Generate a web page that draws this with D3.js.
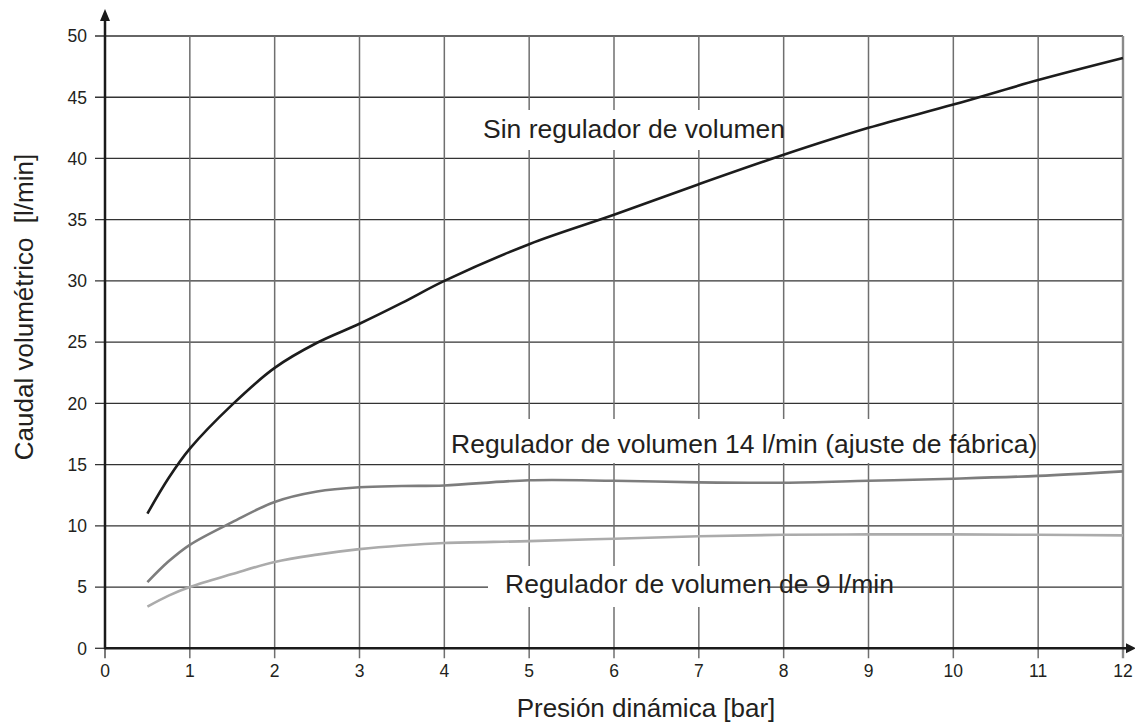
<!DOCTYPE html>
<html>
<head>
<meta charset="utf-8">
<script src="https://cdn.jsdelivr.net/npm/d3@7"></script>
<style>
  html, body { margin: 0; padding: 0; background: #fff; }
  svg text { font-family: "Liberation Sans", Arial, Helvetica, sans-serif; fill: #231f20; }
</style>
</head>
<body>
<svg id="chart" width="1135" height="722"></svg>
<script>
// Dynamic pressure sample points [bar]
const pressure = [0.5, 0.75, 1, 1.5, 2, 2.5, 3, 3.5, 4, 5, 6, 7, 8, 9, 10, 11, 12];
// Volumetric flow [l/min] for each configuration
const sinRegulador = [11.0, 13.9, 16.3, 19.9, 22.9, 24.95, 26.5, 28.2, 30.0, 33.0, 35.4, 37.9, 40.3, 42.5, 44.4, 46.4, 48.2];
const regulador14  = [5.4, 7.1, 8.45, 10.3, 11.95, 12.8, 13.15, 13.25, 13.3, 13.72, 13.68, 13.55, 13.52, 13.68, 13.85, 14.08, 14.45];
const regulador9   = [3.4, 4.3, 5.0, 6.06, 7.05, 7.65, 8.1, 8.4, 8.6, 8.75, 8.95, 9.15, 9.27, 9.3, 9.3, 9.27, 9.22];

const xTicks = [0, 1, 2, 3, 4, 5, 6, 7, 8, 9, 10, 11, 12];
const yTicks = [0, 5, 10, 15, 20, 25, 30, 35, 40, 45, 50];

const seriesNames = ["Sin regulador de volumen", "Regulador de volumen 14 l/min (ajuste de fábrica)", "Regulador de volumen de 9 l/min"];
const xTitle = "Presión dinámica [bar]";
const yTitle = "Caudal volumétrico\u00a0 [l/min]";

const svg = d3.select("#chart");
const x = d3.scaleLinear().domain([0, 12]).range([105, 1123]);
const y = d3.scaleLinear().domain([0, 50]).range([648.3, 36]);

// Grid: horizontal lines (with left tick stubs)
const grid = svg.append("g");
grid.selectAll("line.h").data(yTicks.filter(d => d > 0)).join("line")
  .attr("x1", x(0) - 10).attr("x2", x(12))
  .attr("y1", d => y(d)).attr("y2", d => y(d))
  .attr("stroke", "#333").attr("stroke-width", 1.3);
// Vertical lines (with bottom tick stubs)
grid.selectAll("line.v").data(xTicks.filter(d => d > 0)).join("line")
  .attr("x1", d => x(d)).attr("x2", d => x(d))
  .attr("y1", y(50)).attr("y2", y(0) + 10)
  .attr("stroke", d => d === 12 ? "#8a8a8a" : "#6f6f6f")
  .attr("stroke-width", d => d === 12 ? 2.4 : 1.5);
// Tick stubs at the origin
grid.append("line").attr("x1", x(0) - 10).attr("x2", x(0))
  .attr("y1", y(0)).attr("y2", y(0)).attr("stroke", "#333").attr("stroke-width", 1.3);
grid.append("line").attr("x1", x(0)).attr("x2", x(0))
  .attr("y1", y(0)).attr("y2", y(0) + 10).attr("stroke", "#333").attr("stroke-width", 1.3);

// White panels behind the curve captions
const panels = [
  {x0: 468, x1: 781, y0: 110, y1: 150},
  {x0: 446, x1: 950, y0: 419, y1: 463},
  {x0: 488, x1: 767, y0: 566, y1: 607}
];
svg.append("g").selectAll("rect").data(panels).join("rect")
  .attr("x", d => d.x0).attr("y", d => d.y0)
  .attr("width", d => d.x1 - d.x0).attr("height", d => d.y1 - d.y0)
  .attr("fill", "#fff");

// Axes with arrowheads
const axes = svg.append("g");
axes.append("line").attr("x1", x(0)).attr("x2", 1131)
  .attr("y1", y(0)).attr("y2", y(0)).attr("stroke", "#1a1a1a").attr("stroke-width", 2.5);
axes.append("line").attr("x1", x(0)).attr("x2", x(0))
  .attr("y1", y(0) + 1).attr("y2", 14).attr("stroke", "#1a1a1a").attr("stroke-width", 2.5);
axes.append("path")
  .attr("d", `M${x(0)},9 L${x(0) - 5},21 L${x(0) + 5},21 Z`).attr("fill", "#1a1a1a");
axes.append("path")
  .attr("d", `M1136,${y(0)} L1126,${y(0) - 5} L1126,${y(0) + 5} Z`).attr("fill", "#1a1a1a");

// Tick labels
svg.append("g").selectAll("text").data(yTicks).join("text")
  .attr("x", 87).attr("y", d => y(d)).attr("dy", "0.36em")
  .attr("text-anchor", "end").attr("font-size", 17.5).text(d => d);
svg.append("g").selectAll("text").data(xTicks).join("text")
  .attr("x", d => x(d)).attr("y", 677)
  .attr("text-anchor", "middle").attr("font-size", 17.5).text(d => d);

// Curves
const series = [
  {values: sinRegulador, color: "#1c1c1c", width: 2.6},
  {values: regulador14, color: "#7d7d7d", width: 2.6},
  {values: regulador9, color: "#ababab", width: 2.6}
];
const line = d3.line()
  .x((d, i) => x(pressure[i]))
  .y(d => y(d))
  .curve(d3.curveCatmullRom.alpha(0.5));
svg.append("g").selectAll("path").data(series).join("path")
  .attr("d", d => line(d.values))
  .attr("fill", "none").attr("stroke", d => d.color)
  .attr("stroke-width", d => d.width).attr("stroke-linecap", "butt");

// Curve captions
const captionPos = [
  {x: 483, y: 138},
  {x: 451, y: 453},
  {x: 505, y: 593}
];
svg.append("g").selectAll("text").data(seriesNames).join("text")
  .attr("x", (d, i) => captionPos[i].x).attr("y", (d, i) => captionPos[i].y)
  .attr("font-size", 26.5).text(d => d);

// Axis titles
svg.append("text").attr("x", 646).attr("y", 717)
  .attr("text-anchor", "middle").attr("font-size", 26).text(xTitle);
svg.append("text").attr("transform", "translate(33,307) rotate(-90)")
  .attr("text-anchor", "middle").attr("font-size", 26).text(yTitle);
</script>
</body>
</html>
